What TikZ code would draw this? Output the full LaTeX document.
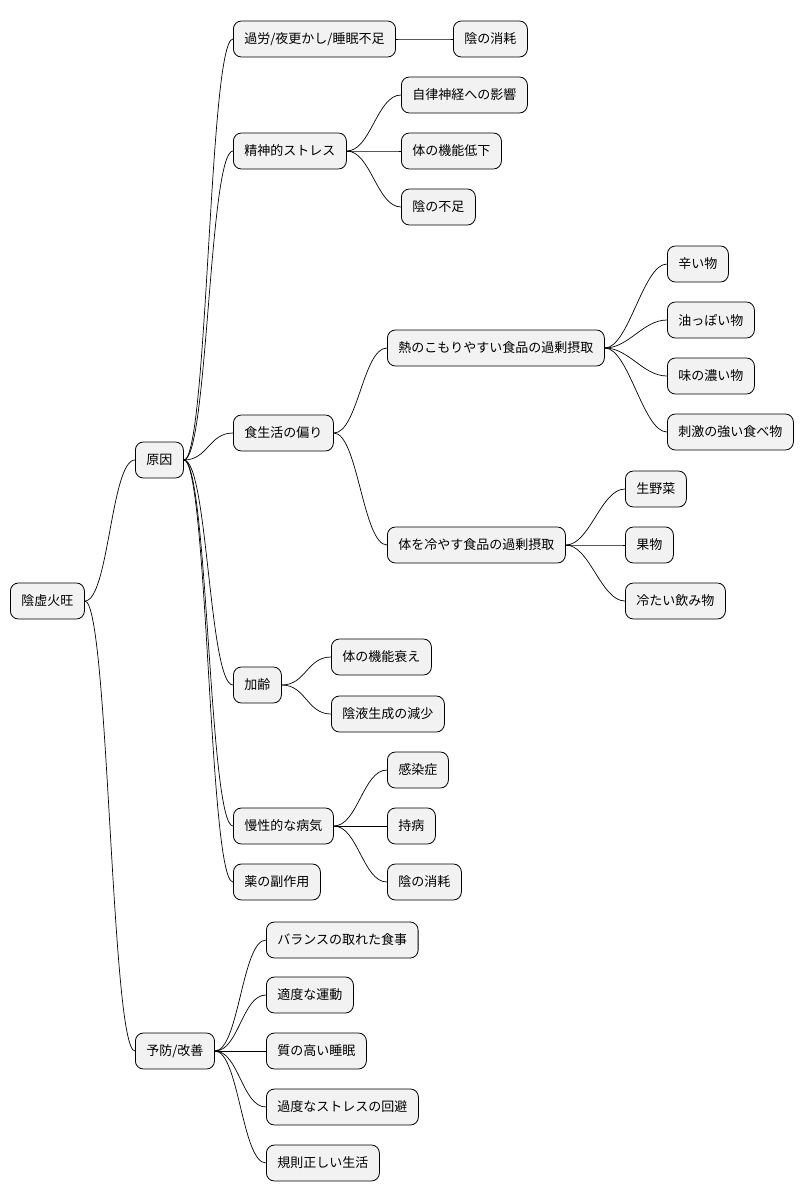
\documentclass[tikz,border=0pt]{standalone}
\usepackage{fontspec}
\setmainfont{Noto Sans CJK JP}
\begin{document}
\begin{tikzpicture}[x=1pt,y=-1pt,
  n/.style={draw=black,line width=0.8pt,fill=black!5,rounded corners=8pt,anchor=west,minimum height=36pt,inner xsep=11pt,font=\fontsize{13}{15}\selectfont},
  c/.style={line width=0.7pt}]
\useasboundingbox[fill=white] (0,0) rectangle (810,1203);
\node[n] (r) at (10,601) {陰虚火旺};
\node[n] (a) at (135,460) {原因};
\node[n] (b) at (135,1051) {予防/改善};
\node[n] (a1) at (233,39) {過労/夜更かし/睡眠不足};
\node[n] (a11) at (453,39) {陰の消耗};
\node[n] (a2) at (233,151) {精神的ストレス};
\node[n] (a21) at (401,95) {自律神経への影響};
\node[n] (a22) at (401,151) {体の機能低下};
\node[n] (a23) at (401,207) {陰の不足};
\node[n] (a3) at (233,433) {食生活の偏り};
\node[n] (a31) at (387,348) {熱のこもりやすい食品の過剰摂取};
\node[n] (a311) at (667,264) {辛い物};
\node[n] (a312) at (667,320) {油っぽい物};
\node[n] (a313) at (667,376) {味の濃い物};
\node[n] (a314) at (667,432) {刺激の強い食べ物};
\node[n] (a32) at (387,545) {体を冷やす食品の過剰摂取};
\node[n] (a321) at (625,489) {生野菜};
\node[n] (a322) at (625,545) {果物};
\node[n] (a323) at (625,601) {冷たい飲み物};
\node[n] (a4) at (233,685) {加齢};
\node[n] (a41) at (331,657) {体の機能衰え};
\node[n] (a42) at (331,714) {陰液生成の減少};
\node[n] (a5) at (233,826) {慢性的な病気};
\node[n] (a51) at (387,770) {感染症};
\node[n] (a52) at (387,826) {持病};
\node[n] (a53) at (387,882) {陰の消耗};
\node[n] (a6) at (233,882) {薬の副作用};
\node[n] (b1) at (266,940) {バランスの取れた食事};
\node[n] (b2) at (266,995) {適度な運動};
\node[n] (b3) at (266,1051) {質の高い睡眠};
\node[n] (b4) at (266,1107) {過度なストレスの回避};
\node[n] (b5) at (266,1163) {規則正しい生活};
\foreach \p/\q in {r/a,r/b,a/a1,a1/a11,a/a2,a2/a21,a2/a22,a2/a23,a/a3,a3/a31,a31/a311,a31/a312,a31/a313,a31/a314,a3/a32,a32/a321,a32/a322,a32/a323,a/a4,a4/a41,a4/a42,a/a5,a5/a51,a5/a52,a5/a53,a/a6,b/b1,b/b2,b/b3,b/b4,b/b5}
  \draw[c] (\p.east) .. controls +(24,0) and +(-24,0) .. (\q.west);
\end{tikzpicture}
\end{document}
